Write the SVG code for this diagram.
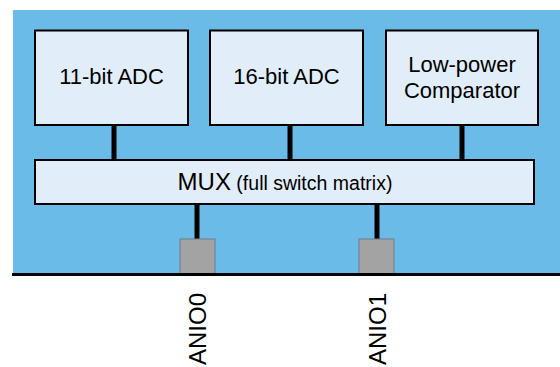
<svg xmlns="http://www.w3.org/2000/svg" width="560" height="367" viewBox="0 0 560 367">
<style>
.box{fill:#E1EEF9;stroke:#000;stroke-width:2}
.pad{fill:#A3A3A3;stroke:#6E7F8C;stroke-width:1}
.wire{stroke:#000;stroke-width:5}
.t{font-family:"Liberation Sans",Arial,sans-serif;fill:#000;text-anchor:middle}
</style>
<rect x="13" y="10" width="547" height="265" fill="#6ABBE8"/>
<g id="connectors">
<line class="wire" x1="114" y1="124" x2="114" y2="161"/>
<line class="wire" x1="290" y1="124" x2="290" y2="161"/>
<line class="wire" x1="462" y1="124" x2="462" y2="161"/>
<line class="wire" x1="197" y1="203" x2="197" y2="240"/>
<line class="wire" x1="377" y1="203" x2="377" y2="240"/>
</g>
<g id="adc11">
<rect class="box" x="35" y="30.5" width="153" height="94.5"/>
<text class="t" x="111.5" y="84" font-size="22">11-bit ADC</text>
</g>
<g id="adc16">
<rect class="box" x="210" y="30.5" width="153" height="94.5"/>
<text class="t" x="286.5" y="84" font-size="22">16-bit ADC</text>
</g>
<g id="comparator">
<rect class="box" x="386" y="30.5" width="152" height="94.5"/>
<text class="t" x="462" y="72" font-size="22">Low-power</text>
<text class="t" x="462" y="98" font-size="22">Comparator</text>
</g>
<g id="mux">
<rect class="box" x="35" y="160" width="499" height="44"/>
<text class="t" x="285" y="190"><tspan font-size="24">MUX</tspan><tspan font-size="19.5"> (full switch matrix)</tspan></text>
</g>
<g id="pad0">
<rect class="pad" x="180" y="239" width="35" height="35"/>
</g>
<g id="pad1">
<rect class="pad" x="359" y="239" width="35" height="35"/>
</g>
<line x1="12" y1="274.5" x2="560" y2="274.5" stroke="#000" stroke-width="3.2"/>
<g id="anio0">
<text class="t" font-size="24" transform="translate(206,329) rotate(-90)">ANIO0</text>
</g>
<g id="anio1">
<text class="t" font-size="24" transform="translate(386,329) rotate(-90)">ANIO1</text>
</g>
</svg>
